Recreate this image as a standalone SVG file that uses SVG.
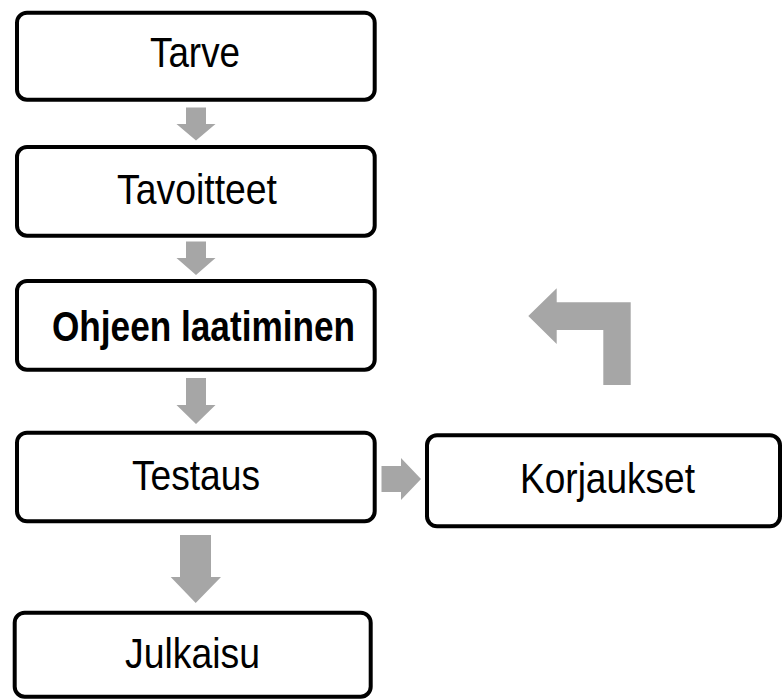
<svg xmlns="http://www.w3.org/2000/svg" width="783" height="699" viewBox="0 0 783 699">
<style>
.box{fill:#fff;stroke:#000;stroke-width:4}
.lbl{font-family:"Liberation Sans",Arial,sans-serif;font-size:42px;fill:#000}
.b{font-weight:bold}
.arr{fill:#a6a6a6}
</style>
<rect width="783" height="699" fill="#fff"/>
<g id="connectors">
<polygon class="arr" points="186,107.5 206,107.5 206,124 215.5,124 196,140.5 176.5,124 186,124"/>
<polygon class="arr" points="186,241.5 206,241.5 206,258 215.5,258 196,275 176.5,258 186,258"/>
<polygon class="arr" points="186,378 206,378 206,405 215.5,405 196,424 176.5,405 186,405"/>
<polygon class="arr" points="180,535 211,535 211,577 221,577 195.7,603 170.7,577 180,577"/>
<polygon class="arr" points="381.5,466 401,466 401,458 421,479 401,500 401,492 381.5,492"/>
<polygon class="arr" points="528.3,316 556.7,288.3 556.7,302.3 630.7,302.3 630.7,385 603.3,385 603.3,330 556.7,330 556.7,344"/>
</g>
<g id="tarve">
<rect class="box" x="17" y="12.7" width="357.7" height="87" rx="10"/>
<text class="lbl" x="150" y="67.3" textLength="90" lengthAdjust="spacingAndGlyphs">Tarve</text>
</g>
<g id="tavoitteet">
<rect class="box" x="17" y="147" width="357.7" height="88.7" rx="10"/>
<text class="lbl" x="117" y="204" textLength="160" lengthAdjust="spacingAndGlyphs">Tavoitteet</text>
</g>
<g id="ohjeen">
<rect class="box" x="17" y="281" width="357.7" height="88.7" rx="10"/>
<text class="lbl b" x="52" y="340.7" textLength="303" lengthAdjust="spacingAndGlyphs">Ohjeen laatiminen</text>
</g>
<g id="testaus">
<rect class="box" x="17" y="432.7" width="357.7" height="88.6" rx="10"/>
<text class="lbl" x="132" y="490" textLength="128" lengthAdjust="spacingAndGlyphs">Testaus</text>
</g>
<g id="julkaisu">
<rect class="box" x="14.7" y="612.7" width="356" height="84" rx="10"/>
<text class="lbl" x="125" y="668.3" textLength="135" lengthAdjust="spacingAndGlyphs">Julkaisu</text>
</g>
<g id="korjaukset">
<rect class="box" x="427" y="435.3" width="353" height="91" rx="10"/>
<text class="lbl" x="520" y="493.3" textLength="175" lengthAdjust="spacingAndGlyphs">Korjaukset</text>
</g>
</svg>
